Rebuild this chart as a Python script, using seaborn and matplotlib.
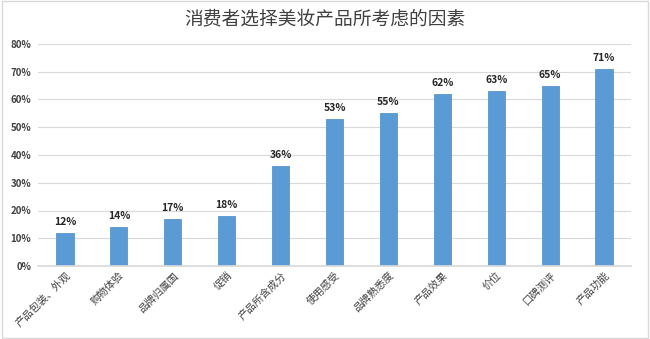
import matplotlib
matplotlib.use("Agg")
import matplotlib.pyplot as plt
import seaborn as sns
import pandas as pd
from matplotlib.patches import Rectangle

categories = ["产品包装、外观", "购物体验", "品牌归属国", "促销", "产品所含成分", "使用感受",
              "品牌熟悉度", "产品效果", "价位", "口碑测评", "产品功能"]
values = [12, 14, 17, 18, 36, 53, 55, 62, 63, 65, 71]
title = "消费者选择美妆产品所考虑的因素"
yticks = [0, 10, 20, 30, 40, 50, 60, 70, 80]

sns.set_theme(style="white")
plt.rcParams['font.family'] = ['Noto Sans CJK SC', 'DejaVu Sans']

df = pd.DataFrame({"cat": categories, "val": values})

fig = plt.figure(figsize=(6.5, 3.39), dpi=100)
ax = fig.add_axes([38/650, 1-266/339, 593/650, 222/339])
sns.barplot(data=df, x="cat", y="val", color="#5B9BD5", saturation=1, width=0.32, ax=ax,
            edgecolor="#4A8AC8", linewidth=0.5)
ax.set_ylim(0, 80)
ax.set_xlim(-0.5, len(categories) - 0.5)
ax.set_yticks(yticks)
ax.set_yticklabels([f"{v}%" for v in yticks], fontsize=7, color="#404040", fontweight="bold")
ax.yaxis.grid(True, color="#D9D9D9", linewidth=0.8)
ax.set_axisbelow(True)
for s in ["top", "right", "left"]:
    ax.spines[s].set_visible(False)
ax.spines["bottom"].set_color("#D9D9D9")
ax.tick_params(axis="y", length=0, pad=5)
ax.tick_params(axis="x", length=0, pad=3)
ax.set_xticks(range(len(categories)))
ax.set_xticklabels(categories, rotation=45, ha="right", rotation_mode="anchor", fontsize=7.5, color="#404040")
ax.set_xlabel("")
ax.set_ylabel("")
for i, v in enumerate(values):
    ax.text(i, v + 2.2, f"{v}%", ha="center", va="bottom", fontsize=7.5, fontweight="bold", color="#262626")

fig.text(0.5, 1 - 19/339, title, ha="center", va="center", fontsize=13.5, color="#404040")
fig.patches.append(Rectangle((0.003, 0.003), 0.994, 0.994, transform=fig.transFigure,
                             fill=False, edgecolor="#D9D9D9", linewidth=1))
fig.savefig("out.png", dpi=100)
